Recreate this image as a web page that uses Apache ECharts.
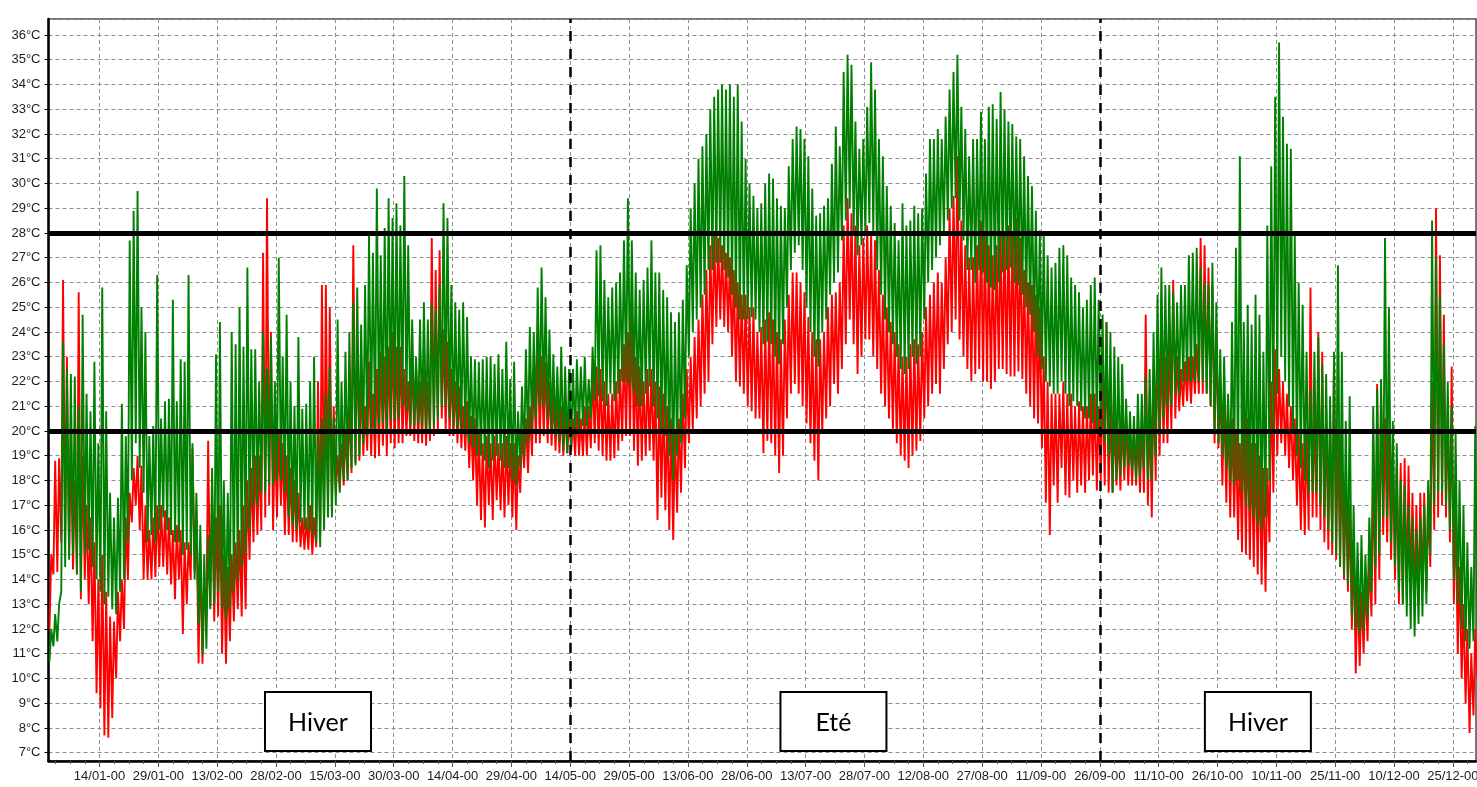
<!DOCTYPE html>
<html>
<head>
<meta charset="utf-8">
<script src="https://cdn.jsdelivr.net/npm/echarts@6/dist/echarts.min.js"></script>
<style>
  html, body { margin: 0; padding: 0; background: #ffffff; overflow: hidden; }
  #chart { width: 1477px; height: 787px; }
</style>
</head>
<body>
<div id="chart"></div>
<script>
// Day-of-year positions (0 = 01/01) of the labelled ticks, every 15 days
const tickDays = [13, 28, 43, 58, 73, 88, 103, 118, 133, 148, 163, 178,
                  193, 208, 223, 238, 253, 268, 283, 298, 313, 328, 343, 358];
const tickLabels = ['14/01-00', '29/01-00', '13/02-00', '28/02-00', '15/03-00', '30/03-00',
                    '14/04-00', '29/04-00', '14/05-00', '29/05-00', '13/06-00', '28/06-00',
                    '13/07-00', '28/07-00', '12/08-00', '27/08-00', '11/09-00', '26/09-00',
                    '11/10-00', '26/10-00', '10/11-00', '25/11-00', '10/12-00', '25/12-00'];

// Green series: daily maximum / minimum temperature (°C), one value per day
const greenHigh = [
  12.0, 12.6, 13.0, 23.6, 22.5, 22.3, 22.2, 21.0, 24.7, 21.5,
  20.8, 22.8, 19.5, 25.8, 20.8, 17.5, 16.5, 17.3, 21.1, 19.8,
  27.7, 28.9, 29.7, 25.0, 24.0, 19.8, 20.2, 26.3, 20.5, 21.2,
  21.3, 25.3, 21.2, 22.9, 22.8, 26.3, 19.5, 17.5, 16.2, 15.0,
  15.8, 18.5, 23.1, 24.4, 18.0, 17.5, 24.0, 23.5, 25.0, 23.4,
  26.6, 23.3, 23.3, 22.0, 24.0, 22.5, 23.8, 22.0, 27.0, 23.0,
  24.7, 22.0, 21.0, 23.8, 20.9, 21.1, 22.0, 23.0, 20.0, 20.5,
  21.5, 22.6, 20.5, 24.5, 22.0, 23.2, 24.0, 25.2, 25.8, 24.3,
  25.9, 27.9, 27.2, 29.8, 27.1, 28.2, 29.4, 28.6, 29.2, 28.3,
  30.3, 27.5, 24.5, 23.0, 24.5, 25.2, 24.5, 25.2, 24.9, 25.9,
  29.2, 28.6, 25.9, 25.2, 24.9, 25.2, 24.6, 23.0, 22.9, 22.8,
  22.9, 23.0, 23.0, 22.7, 23.1, 22.5, 23.6, 22.1, 22.8, 20.8,
  21.8, 23.3, 24.2, 24.0, 25.8, 26.6, 25.4, 24.1, 23.1, 22.6,
  23.4, 22.6, 22.5, 22.5, 22.9, 22.6, 23.0, 22.1, 23.4, 27.3,
  27.5, 26.1, 25.4, 25.8, 26.0, 26.4, 27.7, 29.4, 27.7, 26.4,
  25.7, 26.1, 26.6, 27.7, 26.4, 26.4, 25.7, 25.4, 24.8, 24.4,
  24.8, 25.3, 26.7, 29.0, 30.0, 31.0, 31.5, 32.0, 33.0, 33.5,
  33.8, 34.0, 33.8, 34.0, 33.5, 34.0, 32.5, 31.0, 30.0, 29.5,
  29.0, 29.2, 30.0, 30.4, 30.2, 29.4, 29.1, 29.0, 30.7, 31.8,
  32.3, 32.2, 31.8, 31.1, 29.8, 28.7, 28.8, 29.1, 29.4, 30.8,
  32.3, 31.5, 34.5, 35.2, 34.8, 32.5, 31.4, 31.8, 33.1, 34.9,
  33.8, 31.8, 31.1, 29.9, 29.1, 28.4, 27.7, 29.2, 28.3, 28.5,
  29.1, 28.8, 29.0, 30.4, 31.8, 31.8, 32.2, 31.8, 32.7, 33.8,
  34.5, 35.2, 33.1, 32.2, 31.1, 31.8, 31.8, 32.9, 31.8, 33.1,
  33.2, 32.6, 33.7, 33.0, 32.5, 32.4, 31.9, 31.8, 31.1, 30.3,
  29.9, 28.9, 28.1, 28.0, 27.1, 26.6, 26.8, 27.4, 27.5, 27.1,
  26.2, 25.9, 25.6, 25.0, 25.3, 25.9, 26.2, 25.3, 24.7, 24.4,
  24.0, 23.4, 23.0, 22.7, 21.3, 20.8, 20.6, 21.5, 21.5, 22.2,
  22.5, 24.0, 25.5, 26.6, 25.9, 25.9, 25.6, 25.2, 25.9, 25.9,
  27.1, 27.2, 27.4, 26.6, 26.0, 25.9, 26.8, 25.2, 23.3, 23.0,
  21.5, 24.4, 27.4, 31.1, 24.4, 25.1, 24.3, 25.5, 24.7, 23.2,
  28.3, 30.7, 33.5, 35.7, 32.7, 31.6, 31.4, 27.9, 26.0, 25.1,
  23.2, 21.7, 23.2, 23.8, 22.7, 22.3, 21.4, 23.2, 26.7, 23.2,
  20.4, 21.4, 17.0, 15.5, 15.8, 15.0, 16.5, 21.0, 21.7, 22.1,
  27.8, 25.0, 20.4, 19.5, 18.0, 17.8, 17.0, 16.5, 16.0, 16.5,
  17.0, 18.0, 28.5, 27.0, 25.5, 23.5, 22.0, 21.0, 19.9, 18.0,
  17.0, 15.5, 14.5, 20.2, 19.0
];
const greenLow = [
  10.7, 11.3, 11.5, 13.5, 14.5, 14.8, 15.0, 14.2, 13.5, 15.0,
  15.2, 14.5, 14.0, 13.5, 13.0, 13.3, 12.8, 12.6, 13.5, 14.0,
  15.5, 18.0, 19.5, 18.5, 17.5, 15.5, 15.8, 15.5, 16.0, 16.5,
  16.0, 15.8, 15.5, 15.5, 15.0, 15.2, 15.0, 14.0, 12.2, 11.0,
  11.2, 12.8, 13.0, 13.5, 12.8, 12.4, 12.8, 13.5, 14.0, 14.5,
  15.0, 16.0, 17.0, 17.0, 17.5, 17.5, 17.8, 17.8, 18.0, 18.0,
  17.5, 16.5, 16.2, 16.0, 16.3, 16.0, 16.0, 15.8, 15.5, 15.3,
  16.0, 16.5, 16.5, 17.0, 17.5, 18.0, 18.0, 18.5, 18.6, 19.0,
  19.5, 19.8, 20.0, 20.0, 20.2, 20.3, 20.0, 20.4, 20.5, 20.5,
  21.0, 20.8, 20.2, 20.2, 20.3, 20.2, 20.0, 20.0, 20.2, 20.5,
  21.0, 21.0, 20.5, 20.2, 20.0, 20.0, 19.8, 19.5, 19.3, 19.0,
  19.0, 18.8, 18.5, 18.8, 19.0, 18.8, 18.5, 18.5, 18.0, 17.8,
  18.5, 19.0, 19.5, 20.0, 20.5, 21.0, 21.0, 20.5, 20.0, 19.8,
  19.6, 19.2, 19.1, 19.4, 19.8, 20.0, 20.2, 20.2, 20.5, 21.2,
  21.4, 21.2, 21.0, 21.5, 21.2, 21.5, 22.0, 22.0, 21.8, 21.5,
  21.0, 21.0, 21.5, 21.8, 21.0, 20.5, 20.0, 19.8, 19.0, 18.0,
  19.0, 19.5, 20.5, 23.0, 24.0, 24.5, 25.0, 25.5, 26.5, 26.5,
  26.8, 26.8, 26.5, 26.2, 25.5, 25.0, 24.5, 24.5, 24.5, 24.6,
  24.5, 24.0, 23.5, 23.6, 23.5, 23.0, 22.7, 23.5, 25.0, 26.5,
  27.2, 27.5, 26.5, 25.0, 24.0, 23.0, 22.6, 24.0, 24.5, 25.5,
  26.0, 26.4, 27.7, 28.5, 29.0, 28.0, 27.1, 27.5, 28.0, 28.4,
  28.0, 26.5, 25.5, 24.5, 24.0, 23.5, 23.0, 22.5, 22.3, 22.5,
  23.0, 22.7, 23.0, 24.5, 26.0, 26.5, 27.0, 27.5, 28.0, 28.5,
  29.0, 29.4, 28.5, 27.7, 26.5, 26.5, 26.0, 26.5, 26.4, 26.0,
  25.8, 25.7, 26.0, 26.4, 26.5, 26.6, 26.0, 25.9, 25.5, 25.0,
  24.7, 24.0, 23.0, 22.5, 22.0, 21.8, 21.5, 21.5, 22.0, 21.5,
  21.0, 21.2, 21.0, 20.8, 20.5, 20.5, 20.3, 20.0, 20.0, 19.5,
  19.0, 17.5, 18.0, 18.2, 18.5, 18.6, 18.4, 18.0, 18.2, 18.5,
  18.0, 18.0, 19.0, 20.0, 20.5, 21.0, 21.0, 21.5, 21.5, 22.0,
  22.0, 22.0, 22.0, 22.0, 22.0, 21.5, 21.0, 20.0, 19.5, 19.0,
  18.5, 18.0, 17.8, 18.0, 17.5, 17.0, 16.8, 16.5, 16.2, 16.0,
  16.5, 18.0, 20.0, 21.5, 23.0, 22.0, 21.0, 20.0, 19.0, 18.5,
  18.0, 17.5, 17.5, 17.5, 17.0, 16.5, 16.0, 15.5, 15.0, 14.5,
  14.2, 13.8, 12.5, 12.0, 11.8, 12.0, 12.5, 13.5, 14.5, 15.0,
  16.5, 16.5, 15.5, 14.5, 13.5, 13.0, 12.5, 12.0, 11.7, 12.2,
  12.5, 13.0, 15.0, 17.0, 17.5, 17.5, 17.0, 16.0, 14.0, 13.0,
  12.0, 11.5, 11.2, 11.5, 12.0
];

// Red series: daily maximum / minimum temperature (°C), one value per day
const redHigh = [
  15.0, 18.8, 18.9, 26.1, 23.0, 19.5, 18.0, 25.6, 19.0, 17.0,
  16.5, 15.5, 14.0, 15.0, 13.5, 12.5, 12.3, 13.5, 14.0, 16.5,
  17.5, 18.5, 19.0, 18.6, 17.0, 16.0, 16.5, 17.0, 17.0, 16.8,
  16.5, 16.0, 16.2, 16.0, 15.5, 15.5, 19.3, 16.8, 15.0, 13.5,
  19.6, 17.5, 16.5, 17.0, 15.0, 14.5, 15.0, 15.5, 16.0, 17.0,
  18.0, 18.5, 19.0, 19.0, 27.2, 29.4, 24.0, 20.0, 20.0, 19.5,
  19.0, 18.5, 18.0, 17.5, 16.5, 16.5, 17.0, 16.5, 22.0, 25.9,
  25.9, 25.0, 21.0, 19.0, 19.5, 20.0, 21.0, 27.5, 23.8, 22.0,
  21.0, 22.8, 21.5, 22.5, 23.2, 23.0, 23.4, 24.0, 23.4, 23.4,
  22.5, 22.0, 23.0, 22.5, 22.0, 22.5, 22.0, 27.8, 26.5, 27.3,
  24.1, 23.6, 22.5, 22.0, 21.8, 21.0, 21.2, 20.6, 20.5, 20.0,
  19.5, 19.8, 19.5, 19.8, 19.5, 19.5, 19.8, 19.5, 19.5, 19.0,
  20.0, 20.5, 21.0, 22.5, 23.7, 23.0, 22.8, 22.0, 21.5, 21.2,
  21.0, 20.8, 20.5, 20.5, 20.8, 20.5, 21.0, 21.0, 22.6, 22.6,
  22.5, 22.0, 21.5, 21.5, 22.0, 22.5, 23.5, 24.0, 24.9, 23.0,
  22.6, 22.0, 22.5, 22.5, 22.0, 21.8, 21.5, 21.0, 20.5, 20.0,
  20.5, 21.5, 22.5, 23.0, 23.8, 24.5, 25.5, 26.5, 27.5, 27.9,
  27.8, 27.5, 27.2, 27.0, 26.5, 26.0, 25.5, 25.5, 25.0, 25.0,
  24.0, 24.2, 24.5, 24.8, 24.5, 24.0, 23.7, 24.5, 25.5, 26.4,
  26.4, 26.0, 25.6, 24.6, 24.0, 23.7, 23.7, 24.0, 25.0, 25.5,
  25.6, 26.0, 28.3, 29.4, 28.8, 28.3, 27.5, 27.8, 28.3, 28.0,
  27.7, 26.5, 25.5, 25.0, 24.4, 24.0, 23.5, 23.0, 23.0, 23.5,
  23.7, 23.5, 24.0, 25.0, 25.5, 26.0, 26.4, 26.0, 27.0, 29.0,
  29.5, 31.1, 28.5, 27.5, 27.0, 27.0, 27.5, 28.5, 28.0, 27.5,
  27.1, 27.5, 28.0, 28.0, 28.3, 28.0, 28.6, 27.8, 26.5, 26.0,
  25.9, 25.5, 25.0, 23.0, 22.0, 21.5, 21.5, 21.5, 22.0, 21.5,
  21.5, 21.0, 21.2, 21.0, 21.0, 21.5, 21.5, 21.0, 22.5, 24.4,
  21.0, 20.5, 20.0, 20.5, 20.6, 20.0, 20.0, 20.0, 20.5, 24.7,
  21.0, 22.0, 24.0, 23.5, 23.0, 23.5, 26.1, 23.0, 22.5, 22.8,
  23.0, 23.0, 23.5, 27.8, 27.5, 26.6, 25.9, 24.0, 22.0, 21.5,
  21.0, 20.5, 20.0, 19.5, 21.0, 20.5, 19.5, 19.5, 19.0, 18.5,
  18.5, 22.0, 23.3, 22.5, 22.0, 21.5, 21.0, 20.5, 20.0, 19.5,
  20.0, 25.8, 21.0, 24.0, 23.2, 21.0, 20.5, 22.8, 20.0, 19.0,
  18.0, 17.0, 15.5, 14.0, 13.5, 14.0, 15.0, 18.5, 21.9, 21.4,
  20.5, 20.0, 19.0, 18.5, 18.7, 18.9, 18.6, 17.5, 17.0, 17.5,
  17.5, 17.0, 22.0, 29.0, 27.1, 24.7, 21.0, 22.6, 17.0, 14.5,
  13.0, 12.0, 11.0, 12.0, 12.5
];
const redLow = [
  12.0, 14.2, 14.3, 15.5, 16.0, 15.0, 14.4, 14.2, 13.2, 14.0,
  13.0, 11.5, 9.4, 8.8, 7.7, 7.6, 8.4, 10.0, 11.5, 12.0,
  14.0, 16.3, 17.0, 16.0, 14.0, 14.0, 14.0, 14.1, 14.5, 14.5,
  14.2, 13.8, 13.2, 14.0, 11.8, 13.0, 14.0, 14.3, 10.6, 10.6,
  12.5, 12.9, 12.3, 12.5, 11.0, 10.6, 11.5, 12.3, 12.8, 12.5,
  12.8, 14.8, 15.5, 15.8, 16.0, 16.5, 17.0, 16.0, 16.5, 17.0,
  15.8, 15.8, 15.5, 15.5, 15.3, 15.2, 15.2, 15.0, 15.3, 15.8,
  16.5, 17.0, 17.0, 17.5, 17.6, 17.8, 18.0, 18.3, 18.7, 18.8,
  19.0, 19.2, 19.0, 18.9, 19.0, 19.4, 19.0, 19.5, 19.3, 19.5,
  19.5, 19.8, 19.8, 19.6, 19.5, 19.5, 19.4, 19.6, 19.8, 20.0,
  20.5, 20.0, 19.8, 19.8, 19.5, 19.3, 19.2, 18.5, 18.0, 17.0,
  16.4, 16.1, 17.0, 16.4, 17.2, 16.8, 16.5, 17.0, 16.5, 16.0,
  17.5, 18.5, 18.3, 19.0, 19.5, 19.5, 19.8, 19.5, 19.4, 19.2,
  19.1, 19.0, 19.1, 19.2, 19.0, 19.0, 19.0, 19.0, 19.3, 19.5,
  19.2, 19.0, 18.8, 18.8, 18.9, 19.2, 19.6, 19.8, 19.8, 19.2,
  18.6, 18.8, 19.0, 19.2, 18.8, 16.4, 17.3, 16.8, 16.0, 15.6,
  16.7, 17.5, 18.5, 19.5, 20.0, 20.5, 21.0, 21.5, 22.0, 23.5,
  24.2, 24.5, 24.2, 24.0, 23.0, 22.0, 21.8, 21.5, 21.0, 20.8,
  20.5, 20.5, 19.1, 19.6, 19.5, 19.0, 18.3, 19.0, 20.5, 21.5,
  21.9, 21.5, 21.0, 20.3, 19.5, 18.8, 18.0, 19.9, 20.5, 21.0,
  21.9, 21.5, 22.5, 23.5, 24.5, 23.5, 22.3, 23.0, 23.7, 23.7,
  23.0, 22.5, 21.5, 21.0, 20.5, 20.0, 19.5, 19.0, 18.8, 18.5,
  19.0, 19.2, 19.6, 20.5, 21.0, 21.5, 21.9, 21.5, 22.5, 23.5,
  24.0, 24.5, 23.7, 23.0, 22.5, 22.0, 22.3, 22.5, 22.0, 22.0,
  21.7, 22.0, 22.5, 22.5, 22.3, 22.2, 22.2, 22.4, 22.1, 21.5,
  21.0, 20.5, 20.3, 19.3, 17.1, 15.8, 17.8, 17.1, 18.5, 17.4,
  17.3, 18.0, 17.5, 17.8, 17.5, 18.0, 18.2, 17.6, 18.0, 17.8,
  17.5, 17.5, 17.8, 17.6, 18.0, 17.8, 17.8, 17.8, 17.5, 17.5,
  17.0, 16.5, 18.0, 19.0, 19.5, 19.5, 20.0, 20.5, 20.8, 21.0,
  21.2, 21.1, 21.5, 21.5, 21.5, 21.5, 21.0, 19.5, 19.3, 17.8,
  17.1, 16.5, 16.5, 15.6, 15.1, 15.0, 14.8, 14.5, 14.2, 13.8,
  13.5, 15.5, 17.5, 19.0, 19.5, 19.0, 18.5, 18.0, 17.0, 16.0,
  15.8, 16.0, 16.5, 16.5, 16.0, 15.5, 15.2, 15.0, 14.8, 14.5,
  14.0, 13.5, 12.0, 10.2, 10.5, 11.0, 11.5, 12.5, 13.0, 14.0,
  15.8, 15.5, 14.8, 14.0, 13.0, 13.0, 13.2, 13.5, 13.0, 13.0,
  13.5, 13.5, 14.5, 16.0, 16.5, 17.0, 16.5, 15.5, 13.0, 11.0,
  10.0, 9.0, 7.8, 8.5, 10.0
];

// Comfort band limits (°C) and season boundaries (day of year)
const comfortBounds = [20, 28];
const seasonBreaks = [133, 268];
const seasonNames = ['Hiver', 'Eté', 'Hiver'];
const seasonCenters = [68.7, 200.1, 308.3];
const seasonLabelTemp = 8.26;

// Each day becomes a low point followed by a high point
function dailySwing(low, high) {
  const pts = [];
  for (let d = 0; d < low.length; d++) {
    pts.push([d + 0.25, low[d]]);
    pts.push([d + 0.7, high[d]]);
  }
  return pts;
}

// Three minor ticks between labelled ticks
const minorTicks = [];
tickDays.forEach(function (t) {
  for (let k = 1; k < 4; k++) {
    const v = t - k * 3.75;
    if (v > 0) minorTicks.push(v);
  }
});
minorTicks.push(tickDays[tickDays.length - 1] + 3.75);

const textColor = '#1c1c24';
const labelFont = 'Liberation Sans, Arial, sans-serif';

const chart = echarts.init(document.getElementById('chart'), null, { renderer: 'canvas' });

chart.setOption({
  animation: false,
  backgroundColor: '#ffffff',
  grid: {
    left: 48.5, right: 1, top: 19, bottom: 26,
    outerBoundsMode: 'none', containLabel: false,
    show: true, borderColor: '#4a4a4a', borderWidth: 1.5
  },
  xAxis: [{
    type: 'value', min: 0, max: 363.9,
    axisLine: { lineStyle: { color: '#000000', width: 2.5 } },
    axisTick: { customValues: tickDays, length: 6, lineStyle: { color: '#555555', width: 1 } },
    axisLabel: {
      customValues: tickDays,
      formatter: function (v) {
        const i = tickDays.indexOf(Math.round(v));
        return i >= 0 ? tickLabels[i] : '';
      },
      color: textColor, fontSize: 13, fontFamily: labelFont, margin: 9
    },
    splitLine: { show: true, lineStyle: { color: '#8f8f8f', width: 1, type: [4, 3] } }
  }, {
    type: 'value', min: 0, max: 363.9, position: 'bottom',
    axisLine: { show: false },
    axisTick: { customValues: minorTicks, length: 3, lineStyle: { color: '#555555', width: 1 } },
    axisLabel: { show: false },
    splitLine: { show: false }
  }],
  yAxis: {
    type: 'value', min: 6.665, max: 36.645, splitNumber: 30,
    axisLine: { show: true, lineStyle: { color: '#000000', width: 2.5 } },
    axisTick: { show: true, length: 4, lineStyle: { color: '#000000', width: 1 } },
    axisLabel: {
      showMinLabel: false, showMaxLabel: false,
      formatter: function (v) { return Math.round(v) + '°C'; },
      color: textColor, fontSize: 13, fontFamily: labelFont, margin: 8
    },
    splitLine: { show: true, lineStyle: { color: '#8f8f8f', width: 1, type: [4, 3] } }
  },
  series: [{
    name: 'rouge', type: 'line', xAxisIndex: 0, z: 2,
    data: dailySwing(redLow, redHigh),
    showSymbol: false, symbol: 'none', sampling: null,
    lineStyle: { color: '#ff0000', width: 1.9 }
  }, {
    name: 'vert', type: 'line', xAxisIndex: 0, z: 3,
    data: dailySwing(greenLow, greenHigh),
    showSymbol: false, symbol: 'none', sampling: null,
    lineStyle: { color: '#008000', width: 1.9 }
  }, {
    name: 'repères', type: 'line', xAxisIndex: 0, z: 5,
    data: [],
    markLine: {
      silent: true, symbol: ['none', 'none'], label: { show: false },
      animation: false,
      data: comfortBounds.map(function (t) {
        return { yAxis: t, lineStyle: { color: '#000000', width: 5, type: 'solid' } };
      }).concat(seasonBreaks.map(function (d) {
        return { xAxis: d, lineStyle: { color: '#000000', width: 2.5, type: [10, 8] } };
      }))
    }
  }]
});

// Season boxes placed from day / temperature coordinates
const seasonBoxes = seasonNames.map(function (name, i) {
  const p = chart.convertToPixel({ gridIndex: 0 }, [seasonCenters[i], seasonLabelTemp]);
  return {
    type: 'group', x: p[0], y: p[1], z: 100,
    children: [{
      type: 'rect',
      shape: { x: -53, y: -29.5, width: 106, height: 59 },
      style: { fill: '#ffffff', stroke: '#000000', lineWidth: 2 }
    }, {
      type: 'text',
      style: {
        text: name, x: 0, y: 1, fill: '#000000',
        font: '25px Lato, "Open Sans", sans-serif',
        align: 'center', verticalAlign: 'middle'
      }
    }]
  };
});
chart.setOption({ graphic: seasonBoxes });
</script>
</body>
</html>
